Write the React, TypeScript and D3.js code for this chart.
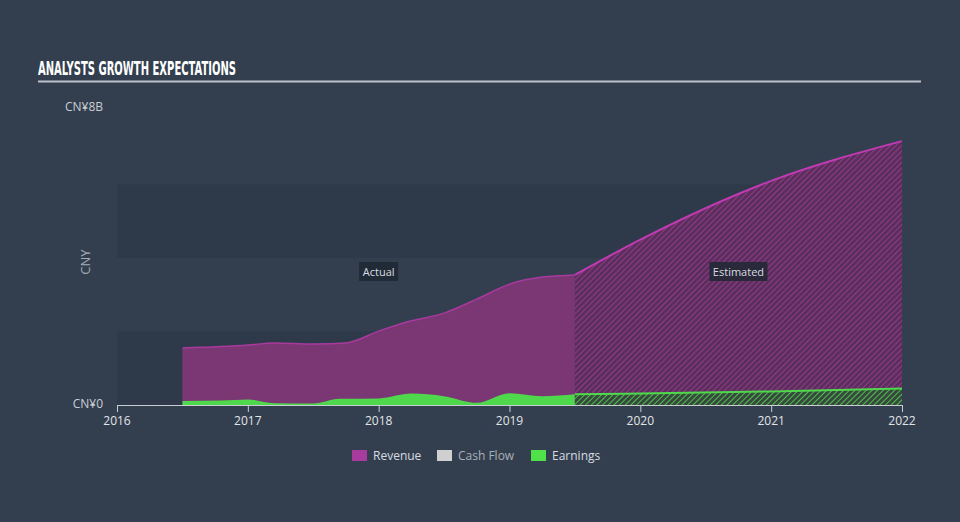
import React from "react";
import * as d3 from "d3";

const xTickYears = [2016, 2017, 2018, 2019, 2020, 2021, 2022];
const yTickLabels = ["CN¥0", "CN¥8B"];
const yTickValues = [0, 8];
const bandEdges = [0, 2, 4, 6, 8];

const revenueActualYears = [2016.5, 2017.0, 2017.2, 2017.5, 2017.75, 2018.0, 2018.25, 2018.5, 2018.75, 2019.0, 2019.25, 2019.5];
const revenueActual = [1.55, 1.63, 1.69, 1.66, 1.69, 2.01, 2.29, 2.5, 2.88, 3.29, 3.48, 3.54];
const revenueEstYears = [2019.5, 2020, 2021, 2022];
const revenueEst = [3.54, 4.5, 6.1, 7.18];

const earningsActualYears = [2016.5, 2016.8, 2017.0, 2017.2, 2017.5, 2017.7, 2018.0, 2018.25, 2018.5, 2018.75, 2019.0, 2019.25, 2019.5];
const earningsActual = [0.11, 0.12, 0.15, 0.05, 0.04, 0.17, 0.18, 0.31, 0.24, 0.06, 0.32, 0.24, 0.29];
const earningsEstYears = [2019.5, 2020, 2021, 2022];
const earningsEst = [0.29, 0.31, 0.37, 0.45];

const legendItems = ["Revenue", "Cash Flow", "Earnings"];
const legendColors = ["#A83C9E", "#D0D0D0", "#4FE04A"];
const legendTextColors = ["#D8DCE0", "#A9B0B8", "#D8DCE0"];

const FONT = "'Open Sans', 'DejaVu Sans', sans-serif";

export default function App() {
  const x = d3.scaleLinear().domain([2016, 2022]).range([117, 902]);
  const y = d3.scaleLinear().domain([0, 8]).range([405, 111]);

  const toPts = (xs: number[], vs: number[]) => xs.map((d, i) => [d, vs[i]] as [number, number]);

  const area = d3
    .area<[number, number]>()
    .x((d) => x(d[0]))
    .y0(y(0))
    .y1((d) => y(d[1]))
    .curve(d3.curveMonotoneX);
  const line = d3
    .line<[number, number]>()
    .x((d) => x(d[0]))
    .y((d) => y(d[1]))
    .curve(d3.curveMonotoneX);

  const revA = toPts(revenueActualYears, revenueActual);
  const revE = toPts(revenueEstYears, revenueEst);
  const earnA = toPts(earningsActualYears, earningsActual);
  const earnE = toPts(earningsEstYears, earningsEst);

  const splitX = x(2019.5);
  const actualMid = (x(revenueActualYears[0]) + splitX) / 2;
  const estMid = (splitX + x(2022)) / 2;

  return (
    <svg
      width={960}
      height={522}
      style={{ position: "absolute", left: 0, top: 0, background: "#333F4F" }}
    >
      <defs>
        <pattern id="hatchRev" width={4} height={4} patternUnits="userSpaceOnUse" patternTransform="rotate(45)">
          <rect width={4} height={4} fill="#5A2F5C" />
          <line x1={0} y1={0} x2={0} y2={4} stroke="#93398C" strokeWidth={2} />
        </pattern>
        <pattern id="hatchEarn" width={4} height={4} patternUnits="userSpaceOnUse" patternTransform="rotate(45)">
          <rect width={4} height={4} fill="#37493F" />
          <line x1={0} y1={0} x2={0} y2={4} stroke="#4FCF4B" strokeWidth={1.8} />
        </pattern>
      </defs>
      <rect width={960} height={522} fill="#333F4F" />

      {/* title */}
      <text
        x={38}
        y={75}
        fill="#FFFFFF"
        fontFamily="'Liberation Sans Narrow', 'DejaVu Sans Condensed', 'DejaVu Sans', sans-serif"
        fontWeight="bold"
        fontSize={20}
        textLength={198}
        lengthAdjust="spacingAndGlyphs"
      >
        ANALYSTS GROWTH EXPECTATIONS
      </text>
      <line x1={38} x2={921} y1={81.5} y2={81.5} stroke="#BCC2C9" strokeWidth={2} />

      {/* bands */}
      {bandEdges.slice(0, -1).map((b, i) =>
        i % 2 === 0 ? (
          <rect
            key={b}
            x={x(2016)}
            y={y(bandEdges[i + 1])}
            width={x(2022) - x(2016)}
            height={y(b) - y(bandEdges[i + 1])}
            fill="#2E3A49"
          />
        ) : null
      )}

      {/* actual areas */}
      <path d={area(revA) || ""} fill="#7B3674" />
      <path d={line(revA) || ""} fill="none" stroke="#A83A9E" strokeWidth={1.5} />
      <path d={area(earnA) || ""} fill="#4FD84B" />

      {/* estimated areas */}
      <path d={area(revE) || ""} fill="url(#hatchRev)" />
      <path d={line(revE) || ""} fill="none" stroke="#C23AB2" strokeWidth={2} />
      <path d={area(earnE) || ""} fill="url(#hatchEarn)" />
      <path d={line(earnE) || ""} fill="none" stroke="#4FD84B" strokeWidth={2} />

      {/* labels */}
      <g fontFamily={FONT} fontSize={11}>
        <rect x={actualMid - 19.5} y={262} width={39} height={19} fill="#1E2833" opacity={0.85} />
        <text x={actualMid} y={275.5} textAnchor="middle" fill="#D8DCE0">
          Actual
        </text>
        <rect x={estMid - 29} y={262} width={58} height={19} fill="#1E2833" opacity={0.85} />
        <text x={estMid} y={275.5} textAnchor="middle" fill="#D8DCE0">
          Estimated
        </text>
      </g>

      {/* x axis */}
      <line x1={x(2016)} x2={x(2022)} y1={405.5} y2={405.5} stroke="#C8CDD3" strokeWidth={1} />
      {xTickYears.map((t) => (
        <g key={t}>
          <line x1={x(t) + 0.5} x2={x(t) + 0.5} y1={405} y2={412} stroke="#C8CDD3" strokeWidth={1} />
          <text x={x(t)} y={424.5} textAnchor="middle" fill="#E2E5E8" fontFamily={FONT} fontSize={12}>
            {t}
          </text>
        </g>
      ))}

      {/* y labels */}
      {yTickValues.map((v, i) => (
        <text
          key={v}
          x={103}
          y={y(v) - (v === 0 ? 1 : 4)}
          dy="0.35em"
          textAnchor="end"
          fill="#C9CED4"
          fontFamily={FONT}
          fontSize={12}
        >
          {yTickLabels[i]}
        </text>
      ))}
      <text
        transform={`translate(90, 262) rotate(-90)`}
        textAnchor="middle"
        fill="#A4ACB5"
        fontFamily={FONT}
        fontSize={13}
      >
        CNY
      </text>

      {/* legend */}
      {legendItems.map((name, i) => {
        const lx = [352, 437, 531][i];
        return (
          <g key={name}>
            <rect x={lx} y={450} width={15} height={11} fill={legendColors[i]} />
            <text x={lx + 21} y={460} fill={legendTextColors[i]} fontFamily={FONT} fontSize={12}>
              {name}
            </text>
          </g>
        );
      })}
    </svg>
  );
}
